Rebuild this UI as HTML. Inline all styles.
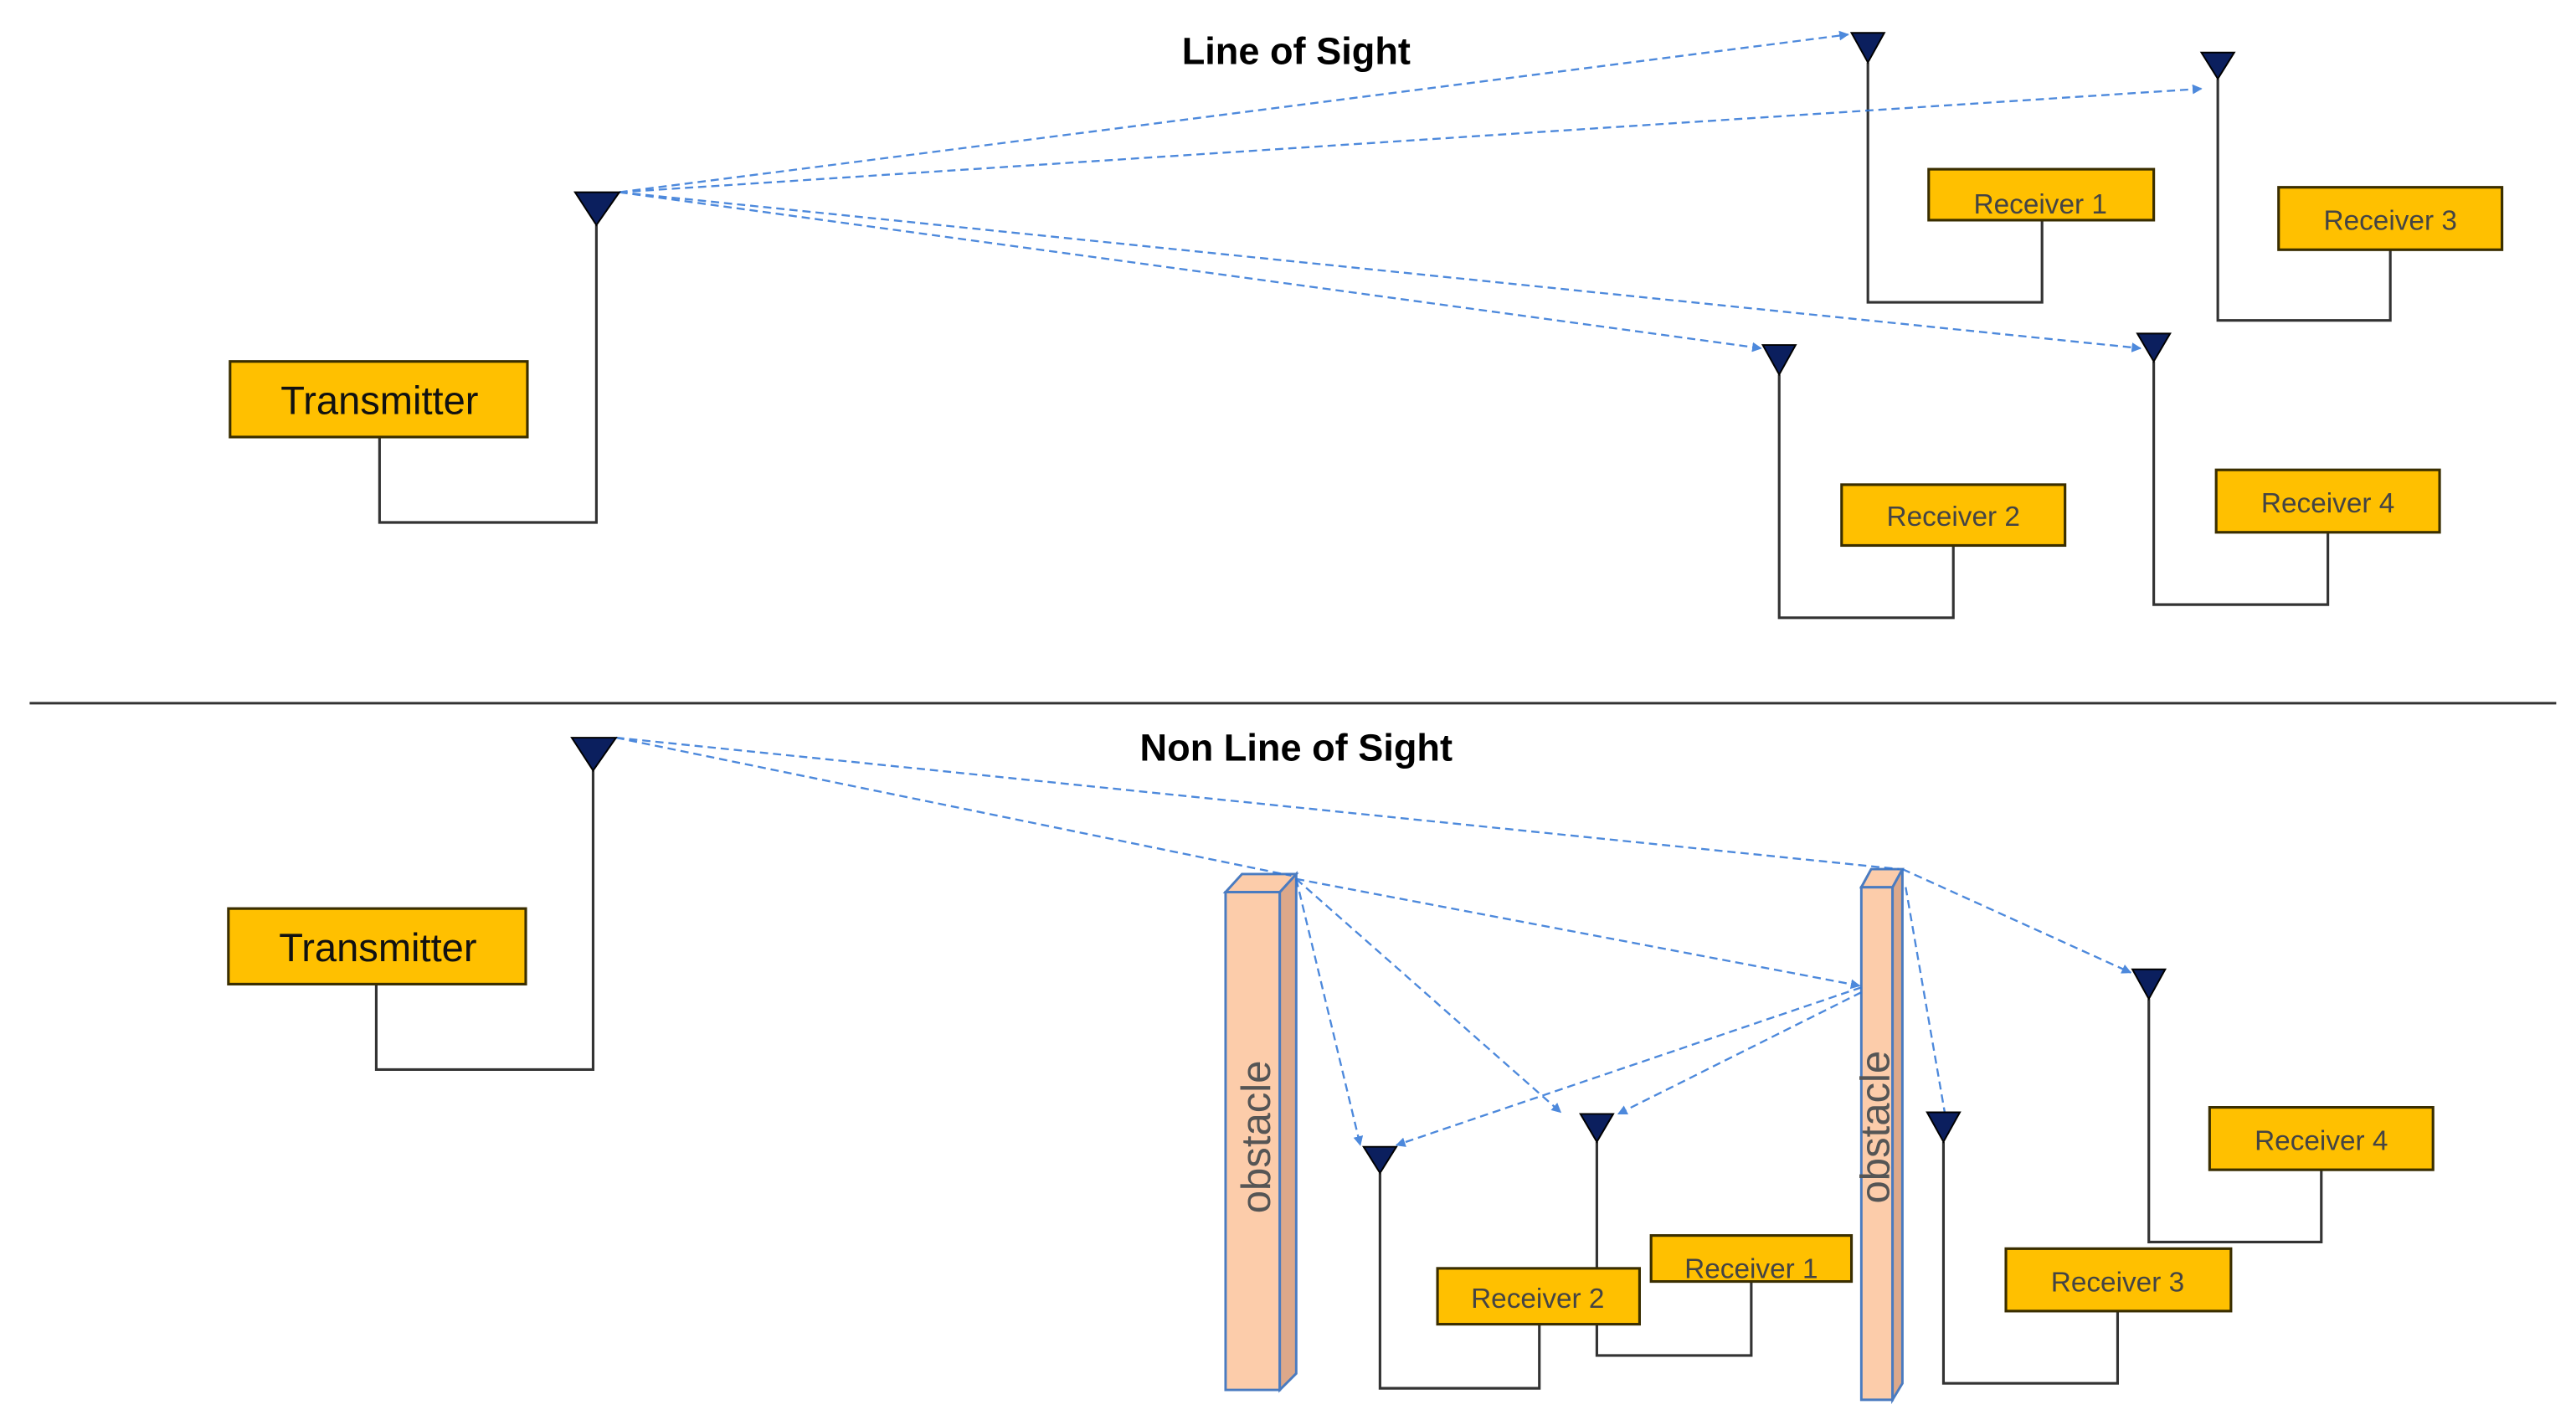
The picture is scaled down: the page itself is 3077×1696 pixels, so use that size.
<!DOCTYPE html>
<html><head><meta charset="utf-8"><style>html,body{margin:0;padding:0;background:#fff}svg{display:block}</style></head>
<body>
<svg width="3077" height="1696" viewBox="0 0 1568 864.3" xmlns="http://www.w3.org/2000/svg" font-family="Liberation Sans, sans-serif">
<defs>
<marker id="ar" viewBox="0 0 10 10" refX="9" refY="5" markerWidth="5" markerHeight="5" orient="auto"><path d="M0,0L10,5L0,10z" fill="#2e75d6"/></marker>
</defs>
<rect width="1568" height="864.3" fill="#fff"/>
<text x="789" y="39" font-size="23" font-weight="bold" text-anchor="middle">Line of Sight</text>
<text x="789" y="463" font-size="23" font-weight="bold" text-anchor="middle">Non Line of Sight</text>
<line x1="18" y1="428" x2="1556" y2="428" stroke="#333" stroke-width="1.5"/>
<g stroke="#333" stroke-width="1.6" fill="none">
<polyline points="363,137 363,318 231,318 231,266"/>
<polyline points="1137,38 1137,184 1243,184 1243,134"/>
<polyline points="1350,48 1350,195 1455,195 1455,152"/>
<polyline points="1083,228 1083,376 1189,376 1189,332"/>
<polyline points="1311,220 1311,368 1417,368 1417,324"/>
<polyline points="361,469 361,651 229,651 229,599"/>
<polyline points="840,714 840,845 937,845 937,806"/>
<polyline points="972,695 972,825 1066,825 1066,780"/>
<polyline points="1183,695 1183,842 1289,842 1289,798"/>
<polyline points="1308,608 1308,756 1413,756 1413,712"/>
</g>
<g fill="#ffc000" stroke="#3a2e00" stroke-width="1.6">
<rect x="140" y="220" width="181" height="46"/>
<rect x="1174" y="103" width="137" height="31"/>
<rect x="1387" y="114" width="136" height="38"/>
<rect x="1121" y="295" width="136" height="37"/>
<rect x="1349" y="286" width="136" height="38"/>
<rect x="139" y="553" width="181" height="46"/>
<rect x="875" y="772" width="123" height="34"/>
<rect x="1005" y="752" width="122" height="28"/>
<rect x="1221" y="760" width="137" height="38"/>
<rect x="1345" y="674" width="136" height="38"/>
</g>
<g font-size="24" fill="#111" text-anchor="middle">
<text x="231" y="252">Transmitter</text>
<text x="230" y="585">Transmitter</text>
</g>
<g font-size="17" fill="#444" text-anchor="middle">
<text x="1242" y="130">Receiver 1</text>
<text x="1455" y="140">Receiver 3</text>
<text x="1189" y="320">Receiver 2</text>
<text x="1417" y="312">Receiver 4</text>
<text x="936" y="796">Receiver 2</text>
<text x="1066" y="778">Receiver 1</text>
<text x="1289" y="786">Receiver 3</text>
<text x="1413" y="700">Receiver 4</text>
</g>
<!-- obstacles -->
<g stroke="#4a7bc0" stroke-width="1.5">
<polygon points="746,543 779,543 779,846 746,846" fill="#fcccaa"/>
<polygon points="779,543 789,532 789,836 779,846" fill="#dca88a"/>
<polygon points="746,543 756,532 789,532 779,543" fill="#fcccaa"/>
<polygon points="1133,540 1152,540 1152,852 1133,852" fill="#fcccaa"/>
<polygon points="1152,540 1158,529 1158,842 1152,852" fill="#dca88a"/>
<polygon points="1133,540 1139,529 1158,529 1152,540" fill="#fcccaa"/>
</g>
<text transform="translate(773,692) rotate(-90)" font-size="25" fill="#555" text-anchor="middle">obstacle</text>
<text transform="translate(1150,686) rotate(-90)" font-size="25" fill="#555" text-anchor="middle">obstacle</text>
<!-- dashed rays -->
<g stroke="#2e75d6" stroke-width="1.2" stroke-dasharray="5,3" fill="none" marker-end="url(#ar)" opacity="0.85">
<line x1="377" y1="117" x2="1125" y2="21"/>
<line x1="377" y1="117" x2="1340" y2="54"/>
<line x1="377" y1="117" x2="1072" y2="212"/>
<line x1="377" y1="117" x2="1303" y2="212"/>
<line x1="375" y1="449" x2="786" y2="533" marker-end="none"/>
<line x1="375" y1="449" x2="1156" y2="529" marker-end="none"/>
<line x1="789" y1="535" x2="828" y2="697"/>
<line x1="789" y1="535" x2="950" y2="677"/>
<line x1="789" y1="535" x2="1132" y2="600"/>
<line x1="1133" y1="601" x2="850" y2="697"/>
<line x1="1133" y1="604" x2="985" y2="678"/>
<line x1="1158" y1="529" x2="1297" y2="592"/>
<line x1="1160" y1="540" x2="1186" y2="690"/>
</g>
<!-- antennas -->
<g fill="#0b1f5e" stroke="#000" stroke-width="1">
<polygon points="350,117 377,117 363,137"/>
<polygon points="1127,20 1147,20 1137,38"/>
<polygon points="1340,32 1360,32 1350,48"/>
<polygon points="1073,210 1093,210 1083,228"/>
<polygon points="1301,203 1321,203 1311,220"/>
<polygon points="348,449 375,449 361,469"/>
<polygon points="830,698 850,698 840,714"/>
<polygon points="962,678 982,678 972,695"/>
<polygon points="1173,677 1193,677 1183,695"/>
<polygon points="1298,590 1318,590 1308,608"/>
</g>
</svg>
</body></html>
